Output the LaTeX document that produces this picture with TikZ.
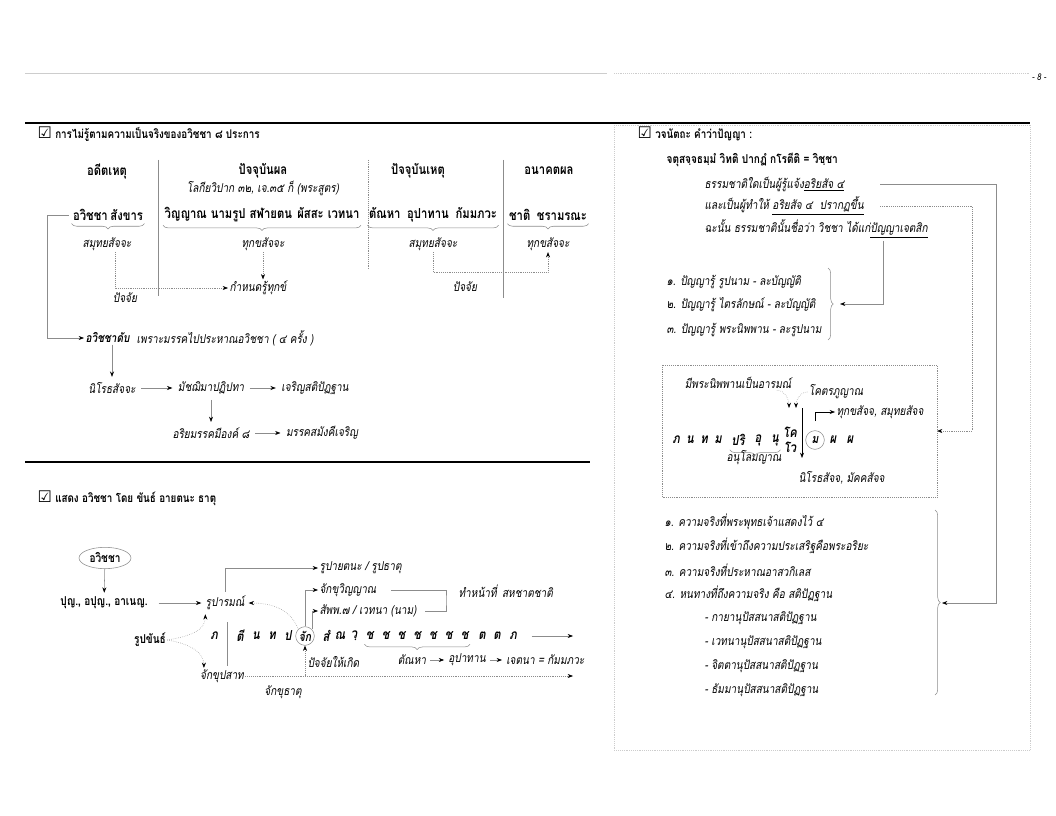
\documentclass[tikz,border=0pt]{standalone}
\usepackage{fontspec}
\usepackage{xcolor}
\usepackage{tikz}
\usetikzlibrary{arrows.meta,decorations.pathreplacing,shapes.geometric}
\newfontfamily\thai[Script=Thai, FakeStretch=0.82]{Loma}
\newfontfamily\dejavu{DejaVu Sans}
\definecolor{linegray}{RGB}{140,140,140}
\definecolor{palegray}{RGB}{205,205,205}
\newcommand{\tickbox}{{\dejavu\bfseries\fontsize{12}{12}\selectfont\char"2611}}
\newcommand{\thsize}{\fontsize{9.2}{10}\selectfont}

\begin{document}
\begin{tikzpicture}[x=0.75pt, y=-0.75pt,
  hd/.style={font=\thai\fontsize{10.3}{11}\selectfont\bfseries, inner sep=1pt},
  sb/.style={font=\thai\thsize\bfseries, inner sep=1pt},
  it/.style={font=\thai\thsize\itshape, inner sep=1pt},
  bit/.style={font=\thai\thsize\bfseries\itshape, inner sep=1pt},
  ltr/.style={font=\thai\fontsize{10.3}{11}\selectfont\bfseries\itshape, inner sep=1pt},
  ttl/.style={font=\thai\fontsize{9}{10}\selectfont\bfseries, anchor=west, inner sep=1pt},
  lst/.style={it, anchor=west},
  arrow/.style={-{Stealth[length=4pt,width=3pt,black]}},
  garrow/.style={draw=linegray, -{Stealth[length=4pt,width=3pt,black]}},
  dotarrow/.style={draw=linegray, densely dotted, -{Stealth[length=4pt,width=3pt,black]}},
  brc/.style={draw=linegray, decorate, decoration={brace, amplitude=4pt}},
  circ/.style={circle, draw=linegray, inner sep=0.5pt, minimum size=14pt},
]
\useasboundingbox (0,0) rectangle (1056,816);

% page frame
\draw[palegray] (25,73) -- (607,73);
\draw[palegray, densely dotted] (614,73) -- (1030,73);
\node[font=\thai\fontsize{7}{7}\selectfont\itshape] (pgno) at (1039,77) {- 8 -};
\draw[line width=1.5pt] (25,123) -- (1030,123);
\draw[line width=1.5pt] (25,462) -- (590,462);
\draw[palegray, densely dotted] (614,125) rectangle (1030,750);

% ---- avijja 8
\node[ttl] (t1) at (36,134) {\tickbox\ การไม่รู้ตามความเป็นจริงของอวิชชา ๘ ประการ};

\node[hd] (h1) at (107,171) {อดีตเหตุ};
\node[hd] (h2) at (263,171) {ปัจจุบันผล};
\node[hd] (h3) at (418,171) {ปัจจุบันเหตุ};
\node[hd] (h4) at (549,171) {อนาคตผล};
\node[it] (h2s) at (263,188) {โลกียวิปาก ๓๒, เจ.๓๕ ก็ (พระสูตร)};

\draw[linegray] (158,160) -- (158,296);
\draw[linegray, densely dotted] (368,160) -- (368,270);
\draw[linegray] (503,160) -- (503,298);

\node[hd] (g1) at (108,215) {อวิชชา\hspace{2pt}สังขาร};
\node[hd] (g2) at (262,215) {วิญญาณ\hspace{3pt}นามรูป\hspace{3pt}สฬายตน\hspace{4pt}ผัสสะ\hspace{3pt}เวทนา};
\node[hd] (g3) at (433,215) {ตัณหา\hspace{5pt}อุปาทาน\hspace{5pt}กัมมภวะ};
\node[hd] (g4) at (548,215) {ชาติ\hspace{5pt}ชรามรณะ};
\foreach \g in {g1,g2,g3,g4}
  \draw[brc] ([yshift=-1pt]\g.south east) -- ([yshift=-1pt]\g.south west);

\node[it] (s1) at (107,244) {สมุทยสัจจะ};
\node[it] (s2) at (263,244) {ทุกขสัจจะ};
\node[it] (s3) at (433,244) {สมุทยสัจจะ};
\node[it] (s4) at (548,244) {ทุกขสัจจะ};

\node[it, anchor=west] (k1) at (228,288) {กำหนดรู้ทุกข์};
\draw[dotarrow] (s2.south) -- (s2.south |- k1.north);
\draw[dotarrow] ([xshift=6pt]s1.south) |- (k1.west);
\node[it] (p1) at (125,298) {ปัจจัย};
\coordinate (j3) at (0,272);
\draw[dotarrow] (s3.south) -- (s3.south |- j3) -| (s4.south);
\node[it] (p2) at (465,287) {ปัจจัย};

\node[bit, anchor=west] (d1) at (84,338) {อวิชชาดับ};
\node[it, anchor=west] (d2) at ([xshift=3pt]d1.east) {เพราะมรรคไปประหาณอวิชชา ( ๔ ครั้ง )};
\coordinate (lb) at (47,215);
\draw[garrow] ([xshift=-2pt]g1.west) -- (lb) |- (d1.west);

\node[it, inner sep=4pt] (n1) at (112,388) {นิโรธสัจจะ};
\node[it, inner sep=4pt] (n2) at (211,388) {มัชฌิมาปฏิปทา};
\node[it, inner sep=4pt] (n3) at (315,388) {เจริญสติปัฏฐาน};
\node[it, inner sep=4pt] (n4) at (211,433) {อริยมรรคมีองค์ ๘};
\node[it, inner sep=4pt] (n5) at (322,433) {มรรคสมังคีเจริญ};
\draw[garrow] (d1.south -| n1.north) -- (n1.north);
\draw[garrow] (n1) -- (n2);
\draw[garrow] (n2) -- (n3);
\draw[garrow] (n2) -- (n4);
\draw[garrow] (n4) -- (n5);

% ---- khandha ayatana dhatu
\node[ttl] (t2) at (36,498) {\tickbox\ แสดง อวิชชา โดย ขันธ์ อายตนะ ธาตุ};
\node[sb, ellipse, draw=linegray, minimum width=39pt, minimum height=16pt] (e1) at (105,558) {อวิชชา};
\node[sb, inner sep=3pt] (b1) at (104,603) {ปุญ., อปุญ., อาเนญ.};
\node[it, inner sep=3pt] (r1) at (225,603) {รูปารมณ์};
\node[sb] (rk) at (150,640) {รูปขันธ์};
\node[it] (cp) at (222,676) {จักขุปสาท};
\draw[garrow] (e1) -- (b1);
\draw[garrow, shorten <=5pt] (b1) -- (r1);
\draw[dotarrow] (rk.east) to[out=10,in=-90] ([xshift=3pt]r1.south west);
\draw[dotarrow] (rk.east) to[out=-10,in=90] ([xshift=4pt]cp.north west);
\draw[linegray] (227,622) -- (227,666);

\node[ltr] (ph1) at (214,636) {ภ};
\node[ltr] (ph2) at (240,636) {ตี};
\node[ltr] (ph3) at (256,636) {น};
\node[ltr] (ph4) at (272,636) {ท};
\node[ltr] (ph5) at (288,636) {ป};
\node[circ, font=\thai\fontsize{9.5}{9}\selectfont\bfseries\itshape] (cj) at (305,636) {จัก};
\node[ltr] (ph6) at (326,636) {สํ};
\node[ltr] (ph7) at (340,636) {ณ};
\node[ltr] (ph8) at (354,636) {วฺ};
\foreach \i in {1,...,7}
  \node[ltr] (ch\i) at ({354+15.8*\i},636) {ช};
\node[ltr] (ph9) at (482,636) {ต};
\node[ltr] (ph10) at (497,636) {ต};
\node[ltr] (ph11) at (513,636) {ภ};
\coordinate (rowend) at (573,636);
\draw[garrow, shorten <=10pt] (ph11.east) -- (rowend);
\draw[brc] ([yshift=-2pt]ch7.south east) -- ([yshift=-2pt]ch1.south west);

\node[it, inner sep=3pt] (ta) at (412,660) {ตัณหา};
\node[it, inner sep=3pt] (ua) at (467,660) {อุปาทาน};
\node[it, inner sep=3pt, anchor=west] (ja) at (502,660) {เจตนา = กัมมภวะ};
\draw[garrow] (ta) -- (ua);
\draw[garrow] (ua) -- (ja);

\node[it, anchor=west] (ry) at (318,568) {รูปายตนะ / รูปธาตุ};
\node[it, anchor=west] (jv) at (318,590) {จักขุวิญญาณ};
\node[it, anchor=west] (sv) at (318,611) {สัพพ.๗ / เวทนา (นาม)};
\node[it, anchor=west] (th) at (457,591) {ทำหน้าที่\hspace{4pt}สหชาตชาติ};
\draw[garrow] (r1.north) |- (ry.west);
\draw[garrow] (cj.north) |- (jv.west);
\draw[garrow] (cj.north east) |- (sv.west);
\coordinate (bk) at (446,600);
\draw[linegray] ([xshift=10pt]jv.east) -| (bk) |- ([xshift=5pt]sv.east);

\node[it, anchor=west] (pj) at (306,662) {ปัจจัยให้เกิด};
\coordinate (de) at (573,678);
\draw[dotarrow] (cp.east) -- (cp.east -| de);
\draw[dotarrow] (cj.south |- cp.east) -- (cj.south);
\node[it] (cd) at (283,692) {จักขุธาตุ};
\draw[dotarrow] (cj.north west) to[out=110,in=0] (r1.east);

% ---- right panel
\node[ttl] (t3) at (636,134) {\tickbox\ วจนัตถะ คำว่าปัญญา :};
\node[sb, anchor=west] (v0) at (665,160) {จตุสจฺจธมฺมํ วิทติ ปากฏํ กโรตีติ = วิชฺชา};
\node[lst] (v1) at (703,184) {ธรรมชาติใดเป็นผู้รู้แจ้ง\underline{อริยสัจ ๔}};
\node[lst] (v2) at (703,206) {และเป็นผู้ทำให้ \underline{อริยสัจ ๔\ \ ปรากฏขึ้น}};
\node[lst] (v3) at (703,229) {ฉะนั้น ธรรมชาตินั้นชื่อว่า วิชชา ได้แก่\underline{ปัญญาเจตสิก}};

\node[lst] (l1) at (665,282) {๑. ปัญญารู้ รูปนาม - ละบัญญัติ};
\node[lst] (l2) at (665,305) {๒. ปัญญารู้ ไตรลักษณ์ - ละบัญญัติ};
\node[lst] (l3) at (665,330) {๓. ปัญญารู้ พระนิพพาน - ละรูปนาม};
\draw[brc] (828,268) -- (828,340);

\coordinate (v1r) at (880,184);
\coordinate (v2r) at (880,206);
\coordinate (v3d) at (883,241);
\coordinate (br1) at (840,304);
\coordinate (br2) at (942,603);
\coordinate (rc) at (996,400);
\coordinate (dc) at (972,300);
\coordinate (dbx) at (937,431);
\draw[garrow] (v3d) |- (br1);
\draw[garrow] (v1r) -| (rc) |- (br2);
\draw[dotarrow] (v2r) -| (dc) |- (dbx);

% magga vithi box
\draw[linegray, densely dotted] (662,365) rectangle (937,497);
\node[it] (m1) at (738,383) {มีพระนิพพานเป็นอารมณ์};
\node[it] (m2) at (836,392) {โคตรภูญาณ};
\node[it, anchor=west] (m3) at (835,412) {ทุกขสัจจ, สมุทยสัจจ};
\node[ltr] (q1) at (676,440) {ภ};
\node[ltr] (q2) at (690,440) {น};
\node[ltr] (q3) at (704,440) {ท};
\node[ltr] (q4) at (718,440) {ม};
\node[ltr] (q5) at (738,440) {ปริ};
\node[ltr] (q6) at (758,440) {อุ};
\node[ltr] (q7) at (775,440) {นุ};
\node[ltr] (q8) at (790,432) {โค};
\node[ltr] (q9) at (790,447) {โว};
\node[circ, font=\thai\fontsize{9.5}{9}\selectfont\bfseries\itshape] (qm) at (815,440) {ม};
\node[ltr] (q10) at (833,440) {ผ};
\node[ltr] (q11) at (850,440) {ผ};
\draw[brc] ([yshift=-2pt]q7.south east) -- ([yshift=-2pt]q5.south west);
\node[it] (q12) at (754,458) {อนุโลมญาณ};
\node[it, anchor=west] (m5) at (797,478) {นิโรธสัจจ, มัคคสัจจ};
\coordinate (va) at (802,408);
\coordinate (vb) at (802,458);
\draw[arrow] (va) -- (vb);
\draw[arrow] ([yshift=7pt]qm.north) |- (m3.west);
\coordinate (tipa) at (789,408);
\coordinate (tipb) at (796,408);
\draw[dotarrow] ([xshift=-12pt]m1.south east) to[out=0,in=90] (tipa);
\draw[dotarrow] (m2.west) to[out=180,in=90] (tipb);

% four truths
\node[lst] (k1a) at (663,522) {๑. ความจริงที่พระพุทธเจ้าแสดงไว้ ๔};
\node[lst] (k2a) at (663,546) {๒. ความจริงที่เข้าถึงความประเสริฐคือพระอริยะ};
\node[lst] (k3a) at (663,570) {๓. ความจริงที่ประหาณอาสวกิเลส};
\node[lst] (k4a) at (663,594) {๔. หนทางที่ถึงความจริง คือ สติปัฏฐาน};
\node[lst] (k5a) at (703,618) {- กายานุปัสสนาสติปัฏฐาน};
\node[lst] (k6a) at (703,642) {- เวทนานุปัสสนาสติปัฏฐาน};
\node[lst] (k7a) at (703,666) {- จิตตานุปัสสนาสติปัฏฐาน};
\node[lst] (k8a) at (703,690) {- ธัมมานุปัสสนาสติปัฏฐาน};
\draw[brc] (935,510) -- (935,695);
\end{tikzpicture}
\end{document}
